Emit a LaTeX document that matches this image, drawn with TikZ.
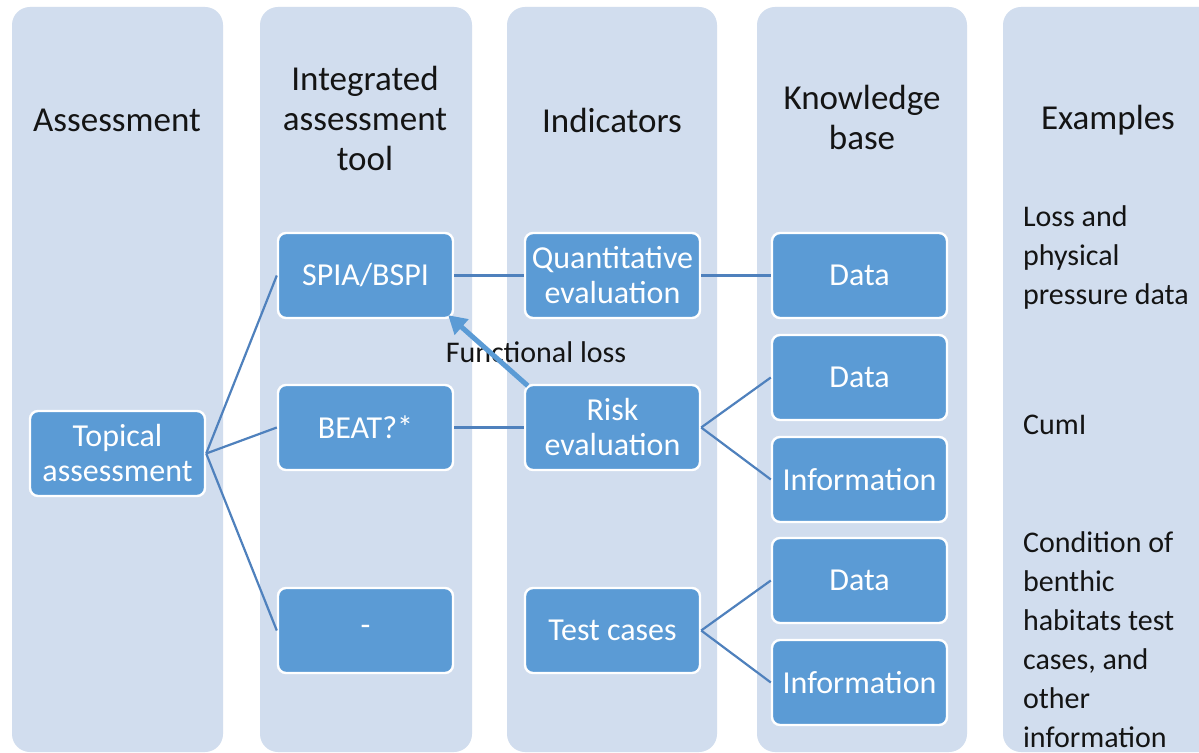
\documentclass[tikz,border=0pt]{standalone}
\usepackage{fontspec}
\setmainfont{Carlito}
\usetikzlibrary{arrows.meta}
\definecolor{colbg}{RGB}{209,221,238}
\definecolor{boxblue}{RGB}{91,155,213}
\definecolor{linkblue}{RGB}{79,129,189}
\definecolor{inkgray}{RGB}{20,20,20}
\begin{document}
\begin{tikzpicture}[
    x=0.5pt,y=-0.5pt,
    box/.style={rectangle, rounded corners=4pt, fill=boxblue, draw=white, line width=1.2pt,
      minimum width=87.5pt, minimum height=42.5pt, text=white, align=center,
      font=\fontsize{16}{17.5}\selectfont},
    head/.style={align=center, text=inkgray, font=\fontsize{17.5}{20}\selectfont},
    example/.style={anchor=west, align=left, text=inkgray, font=\fontsize{15}{19.5}\selectfont},
    link/.style={linkblue, line width=1.1pt},
    col/.style={colbg, rounded corners=9pt}
    ]
    \useasboundingbox (0, 0) rectangle (1199, 753);
    \clip (0, 0) rectangle (1199, 753);
    \fill[white] (0, 0) rectangle (1199, 753);
    \fill[col] (12, 7) rectangle (223, 752);
    \fill[col] (260, 7) rectangle (472, 752);
    \fill[col] (507, 7) rectangle (717, 752);
    \fill[col] (757, 7) rectangle (967, 752);
    \fill[col] (1003, 7) rectangle (1230, 752);
    \node[head] (hassess) at (117, 120) {Assessment};
    \node[head] (htool) at (365, 118) {Integrated\\assessment\\tool};
    \node[head] (hind) at (612, 120) {Indicators};
    \node[head] (hknow) at (862, 117) {Knowledge\\base};
    \node[head] (hex) at (1108, 120) {Examples};
    \node[box] (topical) at (117.5, 453.5) {Topical\\assessment};
    \node[box] (spia) at (365.5, 275.5) {SPIA/BSPI};
    \node[box] (beat) at (365.5, 427.5) {BEAT?*};
    \node[box] (none) at (365.5, 630.5) {-};
    \node[box] (quant) at (612.5, 275.5) {Quantitative\\evaluation};
    \node[box] (risk) at (612.5, 427.5) {Risk\\evaluation};
    \node[box] (test) at (612.5, 630.5) {Test cases};
    \node[box] (dataa) at (859.5, 275.5) {Data};
    \node[box] (datab) at (859.5, 377.5) {Data};
    \node[box] (infob) at (859.5, 479.5) {Information};
    \node[box] (datac) at (859.5, 580.5) {Data};
    \node[box] (infoc) at (859.5, 682.5) {Information};
    \node[example] (exloss) at (1016, 258) {Loss and\\physical\\pressure data};
    \node[example] (excum) at (1016, 425) {CumI};
    \node[example] (excond) at (1016, 640) {Condition of\\benthic\\habitats test\\cases, and\\other\\information};
    \draw[link] (topical.east) -- (spia.west);
    \draw[link] (topical.east) -- (beat.west);
    \draw[link] (topical.east) -- (none.west);
    \draw[link] (spia) -- (quant);
    \draw[link] (quant) -- (dataa);
    \draw[link] (beat) -- (risk);
    \draw[link] (risk.east) -- (datab.west);
    \draw[link] (risk.east) -- (infob.west);
    \draw[link] (test.east) -- (datac.west);
    \draw[link] (test.east) -- (infoc.west);
    \node[text=inkgray, font=\fontsize{15}{18}\selectfont] (floss) at (536, 352) {Functional loss};
    \draw[boxblue, line width=2.5pt, -{Triangle[length=9pt,width=10pt]}]
      ([xshift=2pt,yshift=-1pt]risk.north west) -- ([xshift=-3pt,yshift=2pt]spia.south east);
  \end{tikzpicture}
\end{document}
